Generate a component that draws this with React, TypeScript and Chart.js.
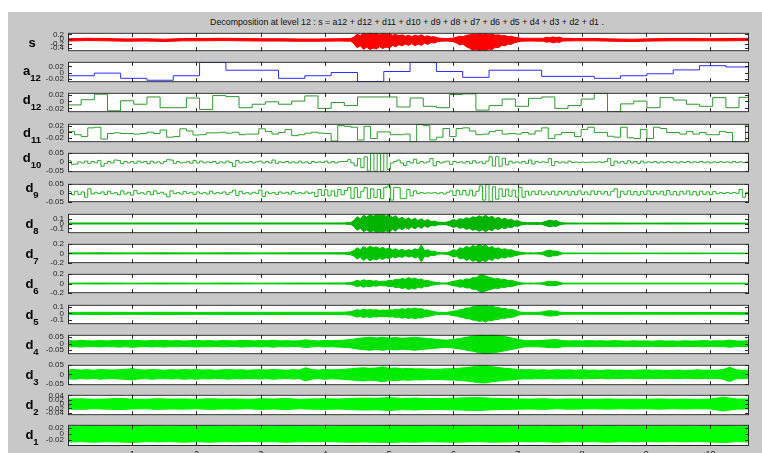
import React, { useEffect, useRef } from "react";
import { Chart, registerables } from "chart.js";
Chart.register(...registerables);

// ---------------- data ----------------
const X_MAX = 10.6;
const X_TICKS = [1, 2, 3, 4, 5, 6, 7, 8, 9, 10];
const X_TICK_LABELS = ["1", "2", "3", "4", "5", "6", "7", "8", "9", "10"];

const TITLE = "Decomposition at level 12 : s = a12 + d12 + d11 + d10 + d9 + d8 + d7 + d6 + d5 + d4 + d3 + d2 + d1 .";

// signal s : upper / lower envelope
const S_X = [0, 0.3, 0.6, 0.9, 1.2, 1.5, 1.8, 2.1, 2.4, 2.7, 3.0, 3.3, 3.6, 3.9, 4.2, 4.4,
  4.45, 4.5, 4.55, 4.6, 4.65, 4.7, 4.75, 4.8, 4.85, 4.9, 4.95, 5.0, 5.05, 5.1, 5.15, 5.2, 5.25, 5.3, 5.35, 5.4, 5.45, 5.5, 5.55, 5.6, 5.65, 5.7, 5.75, 5.8,
  5.9, 6.0,
  6.05, 6.1, 6.15, 6.2, 6.25, 6.3, 6.35, 6.4, 6.45, 6.5, 6.55, 6.6, 6.65, 6.7, 6.75, 6.8, 6.85, 6.9, 6.95, 7.0, 7.05,
  7.2, 7.4, 7.45, 7.5, 7.55, 7.6, 7.65, 7.7, 7.9, 8.2, 8.5, 8.8, 9.1, 9.4, 9.7, 10.0, 10.3, 10.6];
const S_HI = [0.01, 0.03, 0.02, 0.0, 0.01, -0.01, 0.02, 0.02, 0.03, 0.02, 0.01, 0.01, 0.0, 0.0, 0.01, 0.02,
  0.08, 0.2, 0.15, 0.26, 0.2, 0.27, 0.22, 0.26, 0.18, 0.25, 0.2, 0.24, 0.16, 0.2, 0.14, 0.18, 0.12, 0.16, 0.1, 0.17, 0.12, 0.18, 0.1, 0.14, 0.08, 0.1, 0.05, 0.03,
  0.02, 0.04,
  0.08, 0.12, 0.1, 0.16, 0.18, 0.22, 0.2, 0.24, 0.21, 0.23, 0.2, 0.22, 0.16, 0.18, 0.14, 0.15, 0.1, 0.12, 0.07, 0.06, 0.03,
  0.03, 0.03, 0.07, 0.05, 0.09, 0.06, 0.08, 0.03, 0.02, 0.02, 0.0, -0.01, 0.01, 0.02, 0.02, 0.01, 0.02, 0.03];
const S_LO = [-0.09, -0.07, -0.08, -0.1, -0.09, -0.11, -0.08, -0.08, -0.07, -0.08, -0.09, -0.09, -0.1, -0.1, -0.09, -0.1,
  -0.2, -0.38, -0.3, -0.45, -0.36, -0.46, -0.4, -0.44, -0.33, -0.42, -0.35, -0.4, -0.28, -0.34, -0.25, -0.3, -0.22, -0.28, -0.2, -0.3, -0.22, -0.28, -0.18, -0.24, -0.15, -0.18, -0.12, -0.1,
  -0.09, -0.12,
  -0.18, -0.26, -0.22, -0.34, -0.4, -0.5, -0.46, -0.52, -0.48, -0.52, -0.44, -0.46, -0.36, -0.38, -0.28, -0.3, -0.22, -0.24, -0.16, -0.13, -0.1,
  -0.09, -0.1, -0.14, -0.12, -0.17, -0.13, -0.15, -0.09, -0.08, -0.08, -0.1, -0.11, -0.09, -0.08, -0.08, -0.08, -0.08, -0.07];

// approximation a12 (block 0.4096)
const A12_STEP = 0.4096;
const A12 = [-0.009, -0.001, -0.017, -0.023, -0.009, 0.032, 0.008, 0.008, -0.017, -0.009, 0.001, -0.027, 0.004, 0.032, 0.004, -0.014, 0.008, 0.008, -0.011, -0.011, -0.017, -0.009, -0.003, 0.009, 0.022, 0.018];

// detail d12 (block 0.2048)
const D12_STEP = 0.2048;
const D12 = [-0.010, 0.005, 0.021, -0.027, 0.002, -0.008, 0.013, -0.018, -0.018, 0.010,
  -0.023, 0.017, 0.014, -0.018, -0.008, -0.001, -0.008, 0.001, 0.016, -0.020,
  -0.003, -0.012, 0.013, 0.013, 0.013, -0.016, 0.010, -0.014, -0.018, 0.020,
  0.022, -0.025, -0.012, 0.007, -0.014, 0.009, 0.013, -0.020, -0.012, 0.007,
  0.024, -0.030, -0.007, 0.001, -0.018, 0.011, 0.004, -0.008, -0.014, 0.011,
  -0.018, 0.012];

// detail d11 (block 0.1024)
const D11_STEP = 0.1024;
const D11 = [0.001, -0.009, -0.015, 0.013, 0.015, -0.023, -0.005, -0.003, -0.005, -0.005,
  -0.007, -0.005, -0.001, -0.005, 0.006, -0.017, -0.015, 0.010, 0.003, -0.010,
  -0.009, -0.003, -0.003, -0.001, -0.004, -0.001, -0.009, -0.007, -0.007, 0.010,
  0.001, -0.007, -0.002, 0.008, -0.012, -0.009, -0.004, -0.001, -0.004, -0.005,
  -0.029, 0.020, 0.018, 0.015, -0.026, 0.018, -0.021, 0.000, 0.000, -0.009,
  -0.009, -0.007, -0.032, 0.024, 0.020, -0.026, -0.017, 0.011, -0.015, 0.011,
  0.013, 0.003, -0.009, -0.007, 0.001, 0.005, -0.007, -0.005, -0.007, -0.002,
  -0.007, 0.003, 0.013, -0.021, -0.009, -0.002, -0.002, -0.015, 0.008, 0.015,
  -0.002, -0.002, -0.014, -0.017, 0.015, -0.019, -0.021, 0.008, -0.021, 0.015,
  0.011, -0.002, -0.002, -0.007, 0.001, -0.007, -0.002, -0.009, -0.009, 0.001,
  -0.002, -0.032, -0.032, 0.022];

// detail d10 (block 0.0512)
const D10_STEP = 0.0512;
const D10 = [0.008, -0.012, -0.010, 0.002, -0.004, 0.006, -0.006, 0.004, -0.003, 0.010,
  -0.022, -0.006, 0.004, -0.004, 0.012, 0.010, -0.008, 0.004, -0.004, 0.004,
  -0.006, 0.006, -0.002, 0.004, -0.008, 0.006, -0.004, 0.002, -0.006, 0.004,
  0.014, 0.012, -0.006, 0.004, -0.004, -0.002, 0.004, -0.006, 0.010, -0.004,
  0.006, -0.004, 0.002, -0.002, 0.004, -0.006, 0.002, -0.004, 0.006, -0.002,
  -0.024, 0.010, -0.004, 0.002, -0.002, 0.004, -0.004, 0.002, 0.006, -0.004,
  0.004, -0.004, 0.012, -0.006, 0.002, -0.002, 0.004, -0.004, 0.002, -0.004,
  0.006, -0.004, 0.002, -0.006, 0.004, -0.002, 0.002, -0.002, 0.006, -0.004,
  0.004, -0.004, 0.002, 0.004, 0.004, 0.014, -0.004, -0.020, 0.020, -0.030,
  0.030, -0.048, 0.049, -0.050, 0.049, -0.050, 0.049, -0.040, -0.004, 0.004,
  0.012, -0.004, -0.018, 0.004, -0.004, 0.016, -0.006, 0.004, -0.004, 0.002,
  0.020, -0.020, 0.004, -0.004, 0.002, 0.006, -0.012, 0.004, -0.002, 0.002,
  -0.004, 0.004, -0.006, 0.008, -0.004, 0.002, -0.008, 0.006, 0.030, -0.022,
  0.030, -0.022, 0.022, -0.014, 0.006, -0.004, 0.002, -0.004, 0.004, -0.006,
  0.012, -0.010, 0.004, -0.002, 0.002, -0.002, 0.020, -0.018, 0.004, -0.004,
  0.002, -0.004, 0.006, -0.002, 0.001, -0.001, 0.001, -0.001, 0.000, 0.001,
  -0.001, 0.002, -0.002, 0.004, 0.020, -0.018, 0.006, -0.004, 0.004, -0.006,
  0.008, -0.004, 0.004, -0.006, 0.006, -0.004, 0.002, -0.002, 0.004, -0.004,
  0.002, -0.003, 0.004, -0.002, 0.002, -0.004, 0.003, -0.002, 0.004, -0.003,
  0.002, -0.002, 0.004, -0.003, 0.002, -0.004, 0.002, -0.002, 0.003, -0.002,
  0.002, -0.003, 0.004, -0.002, 0.002, -0.002, 0.001];

// detail d9 (block 0.0512)
const D9_STEP = 0.0512;
const D9 = [0.008, -0.010, 0.010, -0.008, 0.006, -0.024, 0.024, -0.006, 0.004, -0.004,
  0.006, -0.008, 0.010, -0.004, 0.002, -0.010, 0.012, -0.006, 0.004, -0.012,
  0.014, -0.004, 0.002, -0.006, 0.008, -0.010, 0.012, -0.002, 0.004, -0.006,
  -0.022, 0.012, -0.004, 0.002, -0.006, 0.008, -0.002, 0.004, -0.008, 0.006,
  -0.004, 0.002, -0.006, 0.010, -0.004, 0.002, -0.002, 0.006, -0.008, 0.004,
  0.016, -0.014, 0.010, -0.004, 0.002, -0.006, 0.004, -0.002, 0.016, -0.020,
  0.006, -0.004, 0.002, -0.008, 0.006, -0.002, 0.004, -0.006, 0.008, -0.004,
  0.002, -0.004, 0.006, -0.002, 0.004, -0.020, 0.020, -0.014, 0.018, -0.016,
  0.012, -0.018, 0.020, -0.010, 0.014, 0.030, -0.030, 0.030, -0.026, 0.010,
  0.030, -0.030, 0.024, -0.026, 0.020, -0.032, 0.032, 0.040, -0.040, 0.032,
  0.030, -0.032, -0.030, 0.020, -0.016, 0.012, -0.004, 0.002, -0.002, 0.001,
  -0.001, 0.002, -0.004, 0.002, -0.006, 0.004, 0.012, -0.014, 0.016, -0.010,
  0.014, -0.012, 0.016, -0.016, 0.010, 0.040, -0.040, 0.048, -0.050, 0.035,
  -0.035, 0.024, -0.020, 0.022, -0.018, 0.016, -0.024, 0.032, -0.024, 0.010,
  -0.012, 0.010, -0.008, 0.012, -0.010, 0.006, -0.008, 0.010, -0.012, 0.008,
  -0.006, 0.010, -0.012, 0.008, -0.010, 0.012, -0.008, 0.006, -0.010, 0.012,
  -0.008, 0.010, -0.006, 0.008, -0.012, 0.010, 0.024, -0.024, 0.010, -0.008,
  0.012, -0.010, 0.008, -0.012, 0.010, -0.008, 0.012, -0.010, 0.008, -0.006,
  0.010, -0.012, 0.014, -0.010, 0.008, -0.012, 0.010, -0.006, 0.012, -0.010,
  0.008, -0.012, 0.010, -0.008, 0.006, -0.010, 0.008, -0.004, 0.002, -0.003,
  0.002, -0.002, 0.003, -0.002, 0.020, -0.024, 0.004];

// envelope positions for d8 ... d5 (finer where the bursts are)
const BURST_X = [0, 0.5, 1, 1.5, 2, 2.5, 3, 3.5, 4, 4.3, 4.4,
  4.45, 4.5, 4.55, 4.6, 4.65, 4.7, 4.75, 4.8, 4.85, 4.9,
  4.95, 5.0, 5.05, 5.1, 5.15, 5.2, 5.25, 5.3, 5.35, 5.4,
  5.45, 5.5, 5.55, 5.6, 5.65, 5.7, 5.75, 5.8, 5.85, 5.9,
  5.95, 6.0, 6.05, 6.1, 6.15, 6.2, 6.25, 6.3, 6.35, 6.4,
  6.45, 6.5, 6.55, 6.6, 6.65, 6.7, 6.75, 6.8, 6.85, 6.9,
  6.95, 7.0, 7.05, 7.1, 7.15, 7.2, 7.25, 7.3, 7.35, 7.4,
  7.45, 7.5, 7.55, 7.6, 7.65, 7.7, 7.75, 7.8,
  8, 8.5, 9, 9.5, 10, 10.6];

const D8_AMP = [0.01, 0.01, 0.01, 0.01, 0.01, 0.01, 0.01, 0.01, 0.01, 0.012, 0.02,
  0.06, 0.14, 0.1, 0.17, 0.13, 0.18, 0.15, 0.18, 0.17, 0.18,
  0.15, 0.18, 0.12, 0.16, 0.09, 0.13, 0.08, 0.12, 0.07, 0.11,
  0.06, 0.1, 0.05, 0.08, 0.04, 0.05, 0.03, 0.025, 0.02, 0.03,
  0.05, 0.08, 0.06, 0.1, 0.08, 0.12, 0.1, 0.14, 0.12, 0.16,
  0.13, 0.17, 0.12, 0.15, 0.1, 0.13, 0.08, 0.11, 0.07, 0.09,
  0.05, 0.06, 0.03, 0.02, 0.015, 0.02, 0.015, 0.02, 0.015, 0.03,
  0.05, 0.07, 0.05, 0.06, 0.03, 0.015, 0.01, 0.01,
  0.008, 0.01, 0.008, 0.01, 0.008, 0.008];

const D7_AMP = [0.01, 0.012, 0.01, 0.012, 0.01, 0.012, 0.01, 0.012, 0.012, 0.015, 0.03,
  0.06, 0.12, 0.08, 0.15, 0.1, 0.16, 0.12, 0.14, 0.1, 0.13,
  0.09, 0.12, 0.07, 0.1, 0.06, 0.09, 0.05, 0.08, 0.06, 0.1,
  0.07, 0.18, 0.06, 0.08, 0.04, 0.05, 0.02, 0.015, 0.015, 0.02,
  0.04, 0.08, 0.06, 0.12, 0.1, 0.15, 0.12, 0.17, 0.14, 0.2,
  0.15, 0.18, 0.12, 0.15, 0.1, 0.12, 0.08, 0.1, 0.07, 0.08,
  0.05, 0.04, 0.02, 0.015, 0.01, 0.012, 0.01, 0.012, 0.015, 0.03,
  0.06, 0.07, 0.05, 0.05, 0.03, 0.01, 0.008, 0.008,
  0.006, 0.008, 0.006, 0.008, 0.006, 0.006];

const D6_AMP = [0.008, 0.01, 0.008, 0.01, 0.008, 0.01, 0.008, 0.01, 0.01, 0.012, 0.02,
  0.04, 0.07, 0.05, 0.08, 0.06, 0.07, 0.05, 0.06, 0.04, 0.05,
  0.05, 0.07, 0.06, 0.09, 0.08, 0.11, 0.09, 0.13, 0.1, 0.12,
  0.08, 0.1, 0.06, 0.07, 0.04, 0.03, 0.02, 0.012, 0.01, 0.012,
  0.03, 0.05, 0.06, 0.08, 0.07, 0.1, 0.09, 0.13, 0.12, 0.17,
  0.2, 0.16, 0.14, 0.12, 0.1, 0.11, 0.08, 0.09, 0.06, 0.07,
  0.05, 0.03, 0.015, 0.01, 0.008, 0.01, 0.008, 0.01, 0.012, 0.02,
  0.04, 0.05, 0.04, 0.045, 0.025, 0.01, 0.008, 0.008,
  0.008, 0.008, 0.008, 0.008, 0.008, 0.008];

const D5_AMP = [0.014, 0.016, 0.014, 0.016, 0.014, 0.016, 0.015, 0.016, 0.016, 0.018, 0.025,
  0.04, 0.055, 0.045, 0.06, 0.05, 0.06, 0.05, 0.055, 0.045, 0.05,
  0.045, 0.055, 0.05, 0.06, 0.055, 0.07, 0.06, 0.075, 0.065, 0.08,
  0.065, 0.07, 0.05, 0.05, 0.035, 0.025, 0.018, 0.015, 0.014, 0.015,
  0.025, 0.035, 0.04, 0.055, 0.06, 0.08, 0.08, 0.1, 0.1, 0.12,
  0.11, 0.13, 0.1, 0.11, 0.09, 0.09, 0.07, 0.075, 0.06, 0.06,
  0.05, 0.03, 0.018, 0.015, 0.014, 0.015, 0.014, 0.016, 0.018, 0.025,
  0.035, 0.04, 0.035, 0.035, 0.02, 0.015, 0.013, 0.013,
  0.012, 0.013, 0.012, 0.013, 0.012, 0.014];

// envelopes of d4, d3 (one value every 0.1) and d2, d1 (one value every 0.2)
const D4_STEP = 0.1;
const D4_AMP = [0.024, 0.022, 0.026, 0.023, 0.021, 0.025, 0.022, 0.024, 0.026, 0.023,
  0.028, 0.024, 0.022, 0.025, 0.023, 0.026, 0.022, 0.024, 0.021, 0.023,
  0.026, 0.022, 0.024, 0.021, 0.025, 0.023, 0.022, 0.026, 0.024, 0.022,
  0.025, 0.023, 0.027, 0.022, 0.024, 0.021, 0.023, 0.03, 0.024, 0.022,
  0.025, 0.023, 0.026, 0.028, 0.032, 0.04, 0.046, 0.05, 0.045, 0.05,
  0.044, 0.048, 0.042, 0.046, 0.05, 0.044, 0.04, 0.036, 0.03, 0.028,
  0.034, 0.04, 0.05, 0.058, 0.07, 0.078, 0.072, 0.064, 0.055, 0.045,
  0.035, 0.025, 0.023, 0.024, 0.026, 0.03, 0.032, 0.024, 0.022, 0.023,
  0.021, 0.024, 0.022, 0.023, 0.021, 0.024, 0.022, 0.02, 0.023, 0.021,
  0.022, 0.02, 0.023, 0.021, 0.022, 0.02, 0.023, 0.021, 0.022, 0.024,
  0.021, 0.023, 0.022, 0.028, 0.022, 0.021, 0.023];

const D3_STEP = 0.1;
const D3_AMP = [0.024, 0.026, 0.023, 0.025, 0.022, 0.026, 0.024, 0.023, 0.025, 0.027,
  0.03, 0.025, 0.023, 0.026, 0.024, 0.022, 0.025, 0.023, 0.026, 0.024,
  0.026, 0.023, 0.025, 0.022, 0.024, 0.026, 0.023, 0.025, 0.022, 0.024,
  0.025, 0.023, 0.026, 0.024, 0.022, 0.025, 0.023, 0.035, 0.025, 0.023,
  0.026, 0.024, 0.025, 0.027, 0.03, 0.033, 0.035, 0.032, 0.034, 0.04,
  0.032, 0.034, 0.03, 0.032, 0.029, 0.03, 0.028, 0.027, 0.028, 0.03,
  0.03, 0.033, 0.036, 0.04, 0.045, 0.046, 0.04, 0.036, 0.032, 0.03,
  0.026, 0.024, 0.025, 0.023, 0.024, 0.022, 0.025, 0.023, 0.024, 0.022,
  0.025, 0.022, 0.023, 0.021, 0.024, 0.022, 0.023, 0.021, 0.022, 0.023,
  0.024, 0.022, 0.023, 0.021, 0.022, 0.023, 0.021, 0.022, 0.024, 0.022,
  0.023, 0.022, 0.026, 0.038, 0.024, 0.022, 0.023];

const D2_STEP = 0.2;
const D2_AMP = [0.023, 0.025, 0.022, 0.024, 0.026, 0.023, 0.022, 0.025, 0.023, 0.024,
  0.022, 0.025, 0.023, 0.024, 0.022, 0.025, 0.023, 0.026, 0.022, 0.024,
  0.025, 0.023, 0.026, 0.028, 0.027, 0.03, 0.026, 0.028, 0.025, 0.026,
  0.027, 0.029, 0.03, 0.027, 0.025, 0.024, 0.023, 0.025, 0.022, 0.024,
  0.023, 0.022, 0.024, 0.022, 0.023, 0.022, 0.024, 0.022, 0.023, 0.022,
  0.023, 0.032, 0.024, 0.023];

const D1_STEP = 0.2;
const D1_AMP = [0.026, 0.025, 0.027, 0.025, 0.026, 0.028, 0.025, 0.026, 0.025, 0.027,
  0.025, 0.027, 0.025, 0.026, 0.024, 0.026, 0.025, 0.027, 0.025, 0.026,
  0.025, 0.026, 0.027, 0.026, 0.027, 0.028, 0.026, 0.027, 0.025, 0.026,
  0.027, 0.026, 0.025, 0.027, 0.026, 0.025, 0.026, 0.025, 0.027, 0.025,
  0.026, 0.025, 0.027, 0.025, 0.026, 0.025, 0.026, 0.025, 0.026, 0.025,
  0.026, 0.028, 0.025, 0.026];

// y tick values / labels per panel
const S_TICKS = [0.2, 0, -0.2, -0.4];
const S_TICK_LABELS = ["0.2", "0", "-0.2", "-0.4"];
const T02 = [0.02, 0, -0.02];
const T02_LABELS = ["0.02", "0", "-0.02"];
const T05 = [0.05, 0, -0.05];
const T05_LABELS = ["0.05", "0", "-0.05"];
const T1 = [0.1, 0, -0.1];
const T1_LABELS = ["0.1", "0", "-0.1"];
const T2 = [0.2, 0, -0.2];
const T2_LABELS = ["0.2", "0", "-0.2"];
const TD2 = [0.04, 0.02, 0, -0.02, -0.04];
const TD2_LABELS = ["0.04", "0.02", "0", "-0.02", "-0.04"];

// ---------------- helpers ----------------
function stepData(step: number, vals: number[]) {
  const pts = vals.map((v, i) => ({ x: i * step, y: v }));
  pts.push({ x: X_MAX, y: vals[vals.length - 1] });
  return pts;
}
function stepSet(step: number, vals: number[], color: string) {
  return [{ data: stepData(step, vals), borderColor: color, borderWidth: 1, stepped: true, fill: false, pointRadius: 0 }];
}
function bandSet(xs: number[], hi: number[], lo: number[], color: string) {
  return [
    { data: xs.map((x, i) => ({ x, y: hi[i] })), borderColor: color, backgroundColor: color, borderWidth: 1, fill: "+1", pointRadius: 0 },
    { data: xs.map((x, i) => ({ x, y: lo[i] })), borderColor: color, borderWidth: 1, fill: false, pointRadius: 0 },
  ];
}
function symBand(xs: number[], amp: number[], color: string) {
  return bandSet(xs, amp, amp.map((a) => -a), color);
}
function evenX(step: number, n: number) {
  return Array.from({ length: n }, (_, i) => Math.min(i * step, X_MAX));
}

type Panel = {
  name: string; sub?: string; top: number; height: number; dy: number;
  yMin: number; yMax: number; ticks: number[]; tickLabels: string[];
  datasets: any[]; xLabels?: boolean;
};

const PANELS: Panel[] = [
  { name: "s", top: 32, height: 20, dy: 5, yMin: -0.532, yMax: 0.268, ticks: S_TICKS, tickLabels: S_TICK_LABELS, datasets: bandSet(S_X, S_HI, S_LO, "#ff0000") },
  { name: "a", sub: "12", top: 61, height: 22, dy: 3, yMin: -0.029, yMax: 0.034, ticks: T02, tickLabels: T02_LABELS, datasets: stepSet(A12_STEP, A12, "#2d2dff") },
  { name: "d", sub: "12", top: 92, height: 21, dy: 1, yMin: -0.031, yMax: 0.025, ticks: T02, tickLabels: T02_LABELS, datasets: stepSet(D12_STEP, D12, "#2e962e") },
  { name: "d", sub: "11", top: 123, height: 20, dy: 4, yMin: -0.033, yMax: 0.026, ticks: T02, tickLabels: T02_LABELS, datasets: stepSet(D11_STEP, D11, "#2e9e2e") },
  { name: "d", sub: "10", top: 152, height: 21, dy: -1, yMin: -0.055, yMax: 0.052, ticks: T05, tickLabels: T05_LABELS, datasets: stepSet(D10_STEP, D10, "#30a830") },
  { name: "d", sub: "9", top: 183, height: 20, dy: -1, yMin: -0.052, yMax: 0.052, ticks: T05, tickLabels: T05_LABELS, datasets: stepSet(D9_STEP, D9, "#22b422") },
  { name: "d", sub: "8", top: 213, height: 21, dy: 4, yMin: -0.2, yMax: 0.2, ticks: T1, tickLabels: T1_LABELS, datasets: symBand(BURST_X, D8_AMP, "#00b400") },
  { name: "d", sub: "7", top: 243, height: 21, dy: 4, yMin: -0.21, yMax: 0.205, ticks: T2, tickLabels: T2_LABELS, datasets: symBand(BURST_X, D7_AMP, "#00c400") },
  { name: "d", sub: "6", top: 273, height: 21, dy: 4, yMin: -0.21, yMax: 0.21, ticks: T2, tickLabels: T2_LABELS, datasets: symBand(BURST_X, D6_AMP, "#00cc00") },
  { name: "d", sub: "5", top: 304, height: 21, dy: 4, yMin: -0.16, yMax: 0.127, ticks: T1, tickLabels: T1_LABELS, datasets: symBand(BURST_X, D5_AMP, "#00d800") },
  { name: "d", sub: "4", top: 334, height: 21, dy: 4, yMin: -0.081, yMax: 0.069, ticks: T05, tickLabels: T05_LABELS, datasets: symBand(evenX(D4_STEP, D4_AMP.length), D4_AMP, "#00e200") },
  { name: "d", sub: "3", top: 364, height: 22, dy: 4, yMin: -0.058, yMax: 0.051, ticks: T05, tickLabels: T05_LABELS, datasets: symBand(evenX(D3_STEP, D3_AMP.length), D3_AMP, "#00ec00") },
  { name: "d", sub: "2", top: 394, height: 22, dy: 4, yMin: -0.052, yMax: 0.043, ticks: TD2, tickLabels: TD2_LABELS, datasets: symBand(evenX(D2_STEP, D2_AMP.length), D2_AMP, "#00f600") },
  { name: "d", sub: "1", top: 424, height: 22, dy: 4, yMin: -0.039, yMax: 0.0295, ticks: T02, tickLabels: T02_LABELS, datasets: symBand(evenX(D1_STEP, D1_AMP.length), D1_AMP, "#00ff00"), xLabels: true },
];

const FONT = "'Liberation Sans', Arial, Helvetica, sans-serif";
const AXIS_COLOR = "#2a2a2a";

const framePlugin = {
  id: "frame",
  beforeDatasetsDraw(chart: any) {
    const { ctx, chartArea: a } = chart;
    ctx.save();
    ctx.fillStyle = "#ffffff";
    ctx.fillRect(a.left, a.top, a.right - a.left, a.bottom - a.top);
    ctx.restore();
  },
  afterDraw(chart: any, _args: any, opts: any) {
    const { ctx, chartArea: a, scales } = chart;
    ctx.save();
    ctx.strokeStyle = AXIS_COLOR;
    ctx.lineWidth = 1;
    ctx.beginPath();
    const L = 4;
    for (const t of X_TICKS) {
      const x = Math.round(scales.x.getPixelForValue(t)) + 0.5;
      ctx.moveTo(x, a.top); ctx.lineTo(x, a.top + L);
      ctx.moveTo(x, a.bottom); ctx.lineTo(x, a.bottom - L);
    }
    for (const t of opts.ticks as number[]) {
      const y = Math.round(scales.y.getPixelForValue(t)) + 0.5;
      ctx.moveTo(a.left, y); ctx.lineTo(a.left + L, y);
      ctx.moveTo(a.right, y); ctx.lineTo(a.right - L, y);
    }
    ctx.stroke();
    ctx.strokeRect(a.left + 0.5, a.top + 0.5, a.right - a.left - 1, a.bottom - a.top - 1);
    ctx.restore();
  },
};

const CANVAS_LEFT = 8;
const Y_AXIS_W = 60;
const CANVAS_W = 741;
const PAD = 8;
const X_AXIS_H = 20;

function PanelChart({ p }: { p: Panel }) {
  const ref = useRef<HTMLCanvasElement>(null);
  const h = p.height + PAD + (p.xLabels ? X_AXIS_H : PAD);
  useEffect(() => {
    const chart = new Chart(ref.current as HTMLCanvasElement, {
      type: "line",
      data: { datasets: p.datasets },
      options: {
        animation: false,
        responsive: false,
        maintainAspectRatio: false,
        events: [],
        layout: { padding: { top: PAD, bottom: p.xLabels ? 0 : PAD, left: 0, right: 0 } },
        elements: { point: { radius: 0 }, line: { tension: 0 } },
        plugins: {
          legend: { display: false },
          tooltip: { enabled: false },
          title: { display: false },
          frame: { ticks: p.ticks },
        } as any,
        scales: {
          x: {
            type: "linear",
            min: 0,
            max: X_MAX,
            display: !!p.xLabels,
            grid: { display: false, drawTicks: false },
            border: { display: false },
            afterBuildTicks: (s: any) => { s.ticks = X_TICKS.map((v) => ({ value: v })); },
            afterFit: (s: any) => { s.height = p.xLabels ? X_AXIS_H : 0; },
            ticks: {
              autoSkip: false, maxRotation: 0, padding: 3, color: "#222",
              font: { family: FONT, size: 9 },
              callback: (_v: any, i: number) => X_TICK_LABELS[i],
            },
          },
          y: {
            type: "linear",
            min: p.yMin,
            max: p.yMax,
            grid: { display: false, drawTicks: false },
            border: { display: false },
            afterBuildTicks: (s: any) => { s.ticks = p.ticks.map((v) => ({ value: v })); },
            afterFit: (s: any) => { s.width = Y_AXIS_W; },
            ticks: {
              autoSkip: false, padding: 4, color: "#262626",
              font: { family: FONT, size: 8 },
              callback: (_v: any, i: number) => p.tickLabels[i],
            },
          },
        } as any,
      },
      plugins: [framePlugin],
    });
    return () => chart.destroy();
  }, []);
  return (
    <canvas
      ref={ref}
      width={CANVAS_W}
      height={h}
      style={{ position: "absolute", left: CANVAS_LEFT, top: p.top - PAD, width: CANVAS_W, height: h }}
    />
  );
}

function PanelLabel({ p }: { p: Panel }) {
  const baseline = p.top + p.height / 2 + p.dy;
  return (
    <div
      style={{
        position: "absolute", left: 9, width: 46, top: baseline - 11, height: 13,
        textAlign: "center", whiteSpace: "nowrap",
        font: `bold 13px ${FONT}`, lineHeight: "13px", color: "#000",
      }}
    >
      {p.name}
      {p.sub ? (
        <span style={{ fontSize: 9.5, position: "relative", top: 6 }}>{p.sub}</span>
      ) : null}
    </div>
  );
}

export default function App() {
  return (
    <div style={{ position: "absolute", left: 0, top: 0, width: 762, height: 453, overflow: "hidden", background: "#ffffff" }}>
      <div style={{ position: "absolute", left: 8, top: 12, width: 754, height: 441, background: "#c8c8c8" }} />
      <div
        style={{
          position: "absolute", left: 157, width: 500, top: 16.6, textAlign: "center",
          font: `8.8px ${FONT}`, lineHeight: "10px", color: "#111", whiteSpace: "nowrap",
        }}
      >
        {TITLE}
      </div>
      {PANELS.map((p, i) => (
        <React.Fragment key={i}>
          <PanelChart p={p} />
          <PanelLabel p={p} />
        </React.Fragment>
      ))}
    </div>
  );
}
